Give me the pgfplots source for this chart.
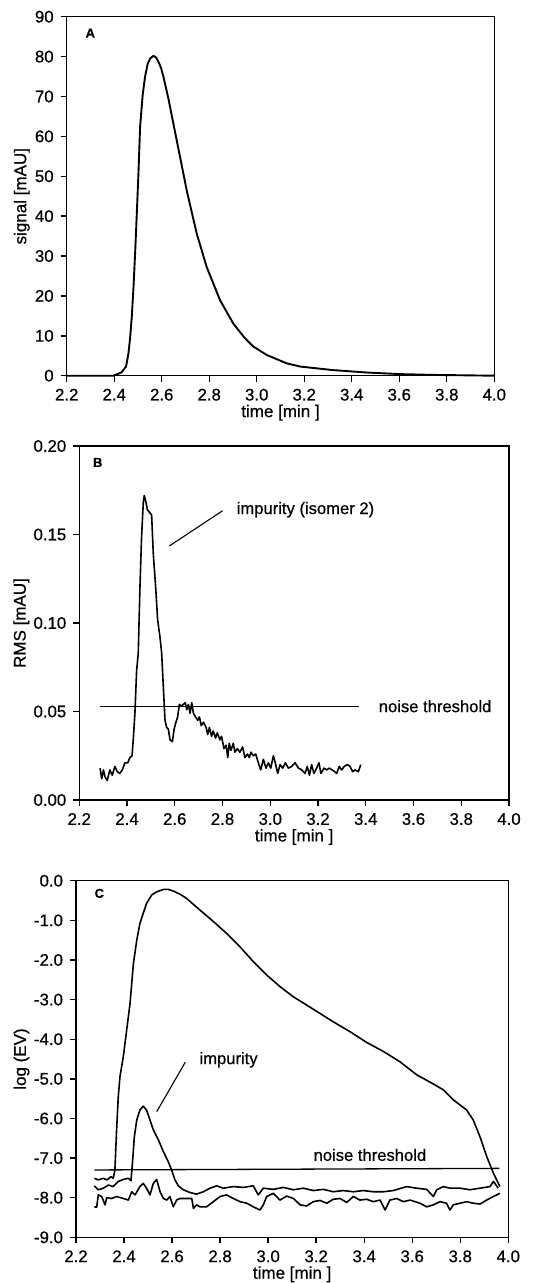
\documentclass[border=0pt]{standalone}
\usepackage{fontspec}
\setmainfont{Liberation Sans}[FakeBold=0.6]
\usepackage{pgfplots}
\pgfplotsset{compat=1.18}

\pgfplotsset{
  panel/.style={
    scale only axis,
    xmin=2.2, xmax=4.0,
    xtick={2.2,2.4,2.6,2.8,3.0,3.2,3.4,3.6,3.8,4.0},
    xticklabel style={/pgf/number format/.cd, fixed, fixed zerofill, precision=1},
    tick align=outside, tick pos=left,
    major tick length=3pt,
    every tick/.style={black, line width=0.7pt},
    axis line style={line width=0.75pt},
    /pgf/number format/assume math mode=true,
    tick label style={font=\fontsize{8.4}{9}\selectfont},
    label style={font=\fontsize{8.5}{9}\selectfont},
    xlabel={time [min ]},
    xlabel style={at={(axis description cs:0.5,0)}, anchor=center, yshift=-18.5pt},
    clip=false,
  },
  curve/.style={black, line width=0.95pt, line join=round},
}

\begin{document}
\begin{tikzpicture}
\useasboundingbox (0,0) rectangle (275.5pt,-641.5pt);

% ---------- A ----------
\begin{axis}[panel,
  at={(33.35pt,-187.85pt)}, anchor=south west,
  width=213.8pt, height=179.5pt,
  ymin=0, ymax=90, ytick={0,10,...,90},
  ylabel={signal [mAU]},
  ylabel style={at={(axis description cs:-0.105,0.5)}, anchor=center},
]
\addplot[curve] coordinates {
 (2.20,0) (2.396,0) (2.430,0.8) (2.450,2.3) (2.460,5.6) (2.467,9.5) (2.474,14.8)
 (2.481,22) (2.488,30.7) (2.495,40.5) (2.502,50.7) (2.509,62.4) (2.520,70.5)
 (2.530,75.0) (2.541,78.2) (2.551,79.5) (2.565,80.2) (2.576,79.8) (2.586,78.7)
 (2.597,77.2) (2.607,75.0) (2.628,69.5) (2.649,63.2) (2.677,54.9) (2.705,46.5)
 (2.747,35.7) (2.789,27.3) (2.845,19.0) (2.901,13.1) (2.950,9.4) (2.986,7.3)
 (3.042,5.2) (3.126,3.1) (3.182,2.3) (3.322,1.4) (3.463,0.8) (3.603,0.4)
 (3.743,0.2) (4.0,0)
};
\node[anchor=west, font=\bfseries\fontsize{6.5}{7}\selectfont] at (axis cs:2.250,85.9) {A};
\end{axis}

% ---------- B ----------
\begin{axis}[panel,
  at={(39.65pt,-400pt)}, anchor=south west,
  width=214.85pt, height=177pt,
  ymin=0, ymax=0.20, ytick={0,0.05,0.10,0.15,0.20},
  yticklabel style={/pgf/number format/.cd, fixed, fixed zerofill, precision=2},
  ylabel={RMS [mAU]},
  ylabel style={at={(axis description cs:-0.135,0.5)}, anchor=center},
]
\addplot[curve, line width=0.8pt] coordinates {
 (2.287,0.018) (2.294,0.012) (2.301,0.017) (2.308,0.013) (2.317,0.011)
 (2.328,0.017) (2.338,0.014) (2.349,0.019) (2.359,0.016) (2.370,0.015)
 (2.380,0.017) (2.391,0.021) (2.403,0.021) (2.412,0.024) (2.421,0.025)
 (2.426,0.034) (2.433,0.049) (2.440,0.073) (2.447,0.083) (2.454,0.120)
 (2.461,0.149) (2.468,0.168) (2.472,0.172) (2.478,0.169) (2.485,0.164)
 (2.503,0.161) (2.510,0.139) (2.520,0.120) (2.528,0.102) (2.538,0.092)
 (2.545,0.083) (2.552,0.064) (2.559,0.045) (2.566,0.041) (2.573,0.040)
 (2.580,0.034) (2.590,0.033) (2.597,0.040) (2.605,0.044) (2.612,0.047)
 (2.619,0.054) (2.629,0.053) (2.636,0.054) (2.644,0.055) (2.650,0.051)
 (2.657,0.054) (2.664,0.049) (2.671,0.055) (2.678,0.049) (2.687,0.047)
 (2.696,0.045) (2.703,0.047) (2.711,0.042) (2.720,0.044) (2.731,0.041)
 (2.738,0.037) (2.745,0.041) (2.754,0.036) (2.761,0.039) (2.771,0.035)
 (2.778,0.038) (2.789,0.034) (2.796,0.036) (2.806,0.029) (2.815,0.031)
 (2.822,0.024) (2.828,0.032) (2.835,0.028) (2.845,0.032) (2.852,0.027)
 (2.862,0.029) (2.873,0.027) (2.884,0.030) (2.894,0.024) (2.904,0.026)
 (2.912,0.024) (2.919,0.027) (2.929,0.025) (2.939,0.026) (2.950,0.021)
 (2.960,0.017) (2.971,0.023) (2.982,0.018) (2.992,0.021) (3.002,0.018)
 (3.013,0.025) (3.021,0.021) (3.031,0.015) (3.041,0.020) (3.052,0.018)
 (3.063,0.021) (3.076,0.018) (3.090,0.019) (3.104,0.021) (3.118,0.018)
 (3.132,0.017) (3.146,0.015) (3.155,0.019) (3.164,0.014) (3.173,0.020)
 (3.183,0.015) (3.194,0.018) (3.204,0.021) (3.212,0.015) (3.225,0.018)
 (3.236,0.017) (3.247,0.018) (3.259,0.017) (3.270,0.016) (3.278,0.015)
 (3.289,0.019) (3.299,0.017) (3.310,0.019) (3.323,0.020) (3.334,0.019)
 (3.345,0.016) (3.355,0.017) (3.369,0.016) (3.379,0.020)
};
\addplot[black, line width=0.65pt] coordinates {(2.287,0.0527) (3.373,0.0527)};
\node[anchor=west, font=\fontsize{8.3}{9}\selectfont] at (axis cs:3.425,0.0530) {noise threshold};
\draw[black, line width=0.55pt] (axis cs:2.577,0.1435) -- (axis cs:2.800,0.1634);
\node[anchor=west, font=\fontsize{8.3}{9}\selectfont] at (axis cs:2.830,0.1640) {impurity (isomer 2)};
\node[anchor=west, font=\bfseries\fontsize{6.5}{7}\selectfont] at (axis cs:2.228,0.1907) {B};
\end{axis}

% ---------- C ----------
\begin{axis}[panel,
  at={(38pt,-618.65pt)}, anchor=south west,
  width=216.15pt, height=178.3pt,
  ymin=-9, ymax=0, ytick={-9,-8,...,0},
  yticklabel style={/pgf/number format/.cd, fixed, fixed zerofill, precision=1},
  ylabel={log (EV)},
  ylabel style={at={(axis description cs:-0.126,0.5)}, anchor=center},
]
% main compound
\addplot[curve, line width=0.8pt] coordinates {
 (2.276,-7.51) (2.293,-7.55) (2.314,-7.51) (2.328,-7.55) (2.346,-7.47)
 (2.355,-7.51) (2.362,-7.30) (2.369,-6.29) (2.376,-5.45) (2.383,-4.95)
 (2.397,-4.44) (2.411,-3.77) (2.425,-3.10) (2.439,-2.09) (2.453,-1.50)
 (2.466,-1.08) (2.480,-0.82) (2.494,-0.57) (2.515,-0.36) (2.536,-0.28)
 (2.564,-0.22) (2.585,-0.22) (2.605,-0.26) (2.633,-0.34) (2.661,-0.45)
 (2.716,-0.74) (2.772,-1.03) (2.827,-1.33) (2.883,-1.67) (2.938,-2.04)
 (2.994,-2.38) (3.049,-2.67) (3.105,-2.93) (3.161,-3.14) (3.216,-3.35)
 (3.271,-3.56) (3.341,-3.81) (3.410,-4.08) (3.480,-4.31) (3.549,-4.57)
 (3.619,-4.90) (3.688,-5.13) (3.730,-5.28) (3.771,-5.53) (3.827,-5.79)
 (3.854,-6.04) (3.882,-6.46) (3.910,-6.96) (3.938,-7.38) (3.965,-7.72)
};
% impurity
\addplot[curve, line width=0.8pt] coordinates {
 (2.276,-7.70) (2.293,-7.80) (2.314,-7.76) (2.335,-7.68) (2.355,-7.72)
 (2.376,-7.59) (2.397,-7.54) (2.418,-7.51) (2.429,-7.57) (2.435,-7.13)
 (2.443,-6.46) (2.453,-6.04) (2.466,-5.79) (2.480,-5.69) (2.494,-5.79)
 (2.508,-6.04) (2.522,-6.29) (2.543,-6.54) (2.564,-6.84) (2.584,-7.09)
 (2.598,-7.30) (2.612,-7.55) (2.626,-7.70) (2.647,-7.80) (2.675,-7.87)
 (2.702,-7.91) (2.730,-7.85) (2.758,-7.76) (2.786,-7.70) (2.813,-7.76)
 (2.855,-7.72) (2.897,-7.74) (2.938,-7.70) (2.959,-7.93) (2.980,-7.76)
 (3.022,-7.79) (3.063,-7.74) (3.105,-7.80) (3.147,-7.76) (3.188,-7.82)
 (3.230,-7.79) (3.271,-7.85) (3.313,-7.82) (3.355,-7.85) (3.396,-7.82)
 (3.438,-7.85) (3.480,-7.85) (3.521,-7.82) (3.577,-7.72) (3.618,-7.76)
 (3.660,-7.79) (3.688,-7.97) (3.702,-7.80) (3.729,-7.72) (3.757,-7.76)
 (3.799,-7.76) (3.840,-7.80) (3.882,-7.76) (3.924,-7.72) (3.938,-7.59)
 (3.958,-7.76)
};
% lower noise trace
\addplot[curve, line width=0.8pt] coordinates {
 (2.276,-8.23) (2.286,-8.24) (2.293,-7.93) (2.307,-7.97) (2.321,-8.18)
 (2.328,-8.00) (2.349,-8.02) (2.369,-7.97) (2.397,-8.02) (2.418,-8.06)
 (2.432,-7.85) (2.446,-7.93) (2.466,-7.72) (2.480,-7.64) (2.494,-7.76)
 (2.508,-7.93) (2.522,-7.64) (2.536,-7.54) (2.550,-7.85) (2.564,-8.02)
 (2.578,-8.06) (2.591,-7.97) (2.605,-8.23) (2.619,-8.06) (2.633,-8.02)
 (2.661,-8.02) (2.682,-8.02) (2.689,-8.27) (2.702,-8.18) (2.716,-8.23)
 (2.744,-8.23) (2.772,-8.10) (2.800,-7.97) (2.827,-7.93) (2.855,-8.02)
 (2.883,-8.10) (2.911,-8.14) (2.938,-8.23) (2.966,-8.31) (2.980,-8.18)
 (2.994,-7.97) (3.022,-7.89) (3.049,-8.06) (3.077,-7.96) (3.105,-8.02)
 (3.133,-8.18) (3.160,-8.21) (3.188,-8.10) (3.216,-8.07) (3.244,-8.14)
 (3.271,-8.04) (3.299,-8.02) (3.327,-8.12) (3.355,-7.97) (3.382,-8.06)
 (3.410,-8.04) (3.438,-8.10) (3.466,-8.06) (3.487,-8.31) (3.507,-8.06)
 (3.535,-8.02) (3.563,-8.10) (3.591,-8.06) (3.632,-8.14) (3.660,-8.23)
 (3.688,-8.18) (3.716,-8.10) (3.743,-8.14) (3.757,-8.31) (3.771,-8.18)
 (3.799,-8.14) (3.827,-8.10) (3.854,-8.14) (3.882,-8.16) (3.910,-8.06)
 (3.938,-7.97) (3.965,-7.89)
};
\addplot[black, line width=0.65pt] coordinates {(2.276,-7.30) (3.963,-7.26)};
\node[anchor=west, font=\fontsize{8.3}{9}\selectfont] at (axis cs:3.160,-6.92) {noise threshold};
\draw[black, line width=0.55pt] (axis cs:2.536,-5.83) -- (axis cs:2.655,-4.58);
\node[anchor=west, font=\fontsize{8.3}{9}\selectfont] at (axis cs:2.685,-4.52) {impurity};
\node[anchor=west, font=\bfseries\fontsize{6.5}{7}\selectfont] at (axis cs:2.248,-0.32) {C};
\end{axis}
\end{tikzpicture}
\end{document}
